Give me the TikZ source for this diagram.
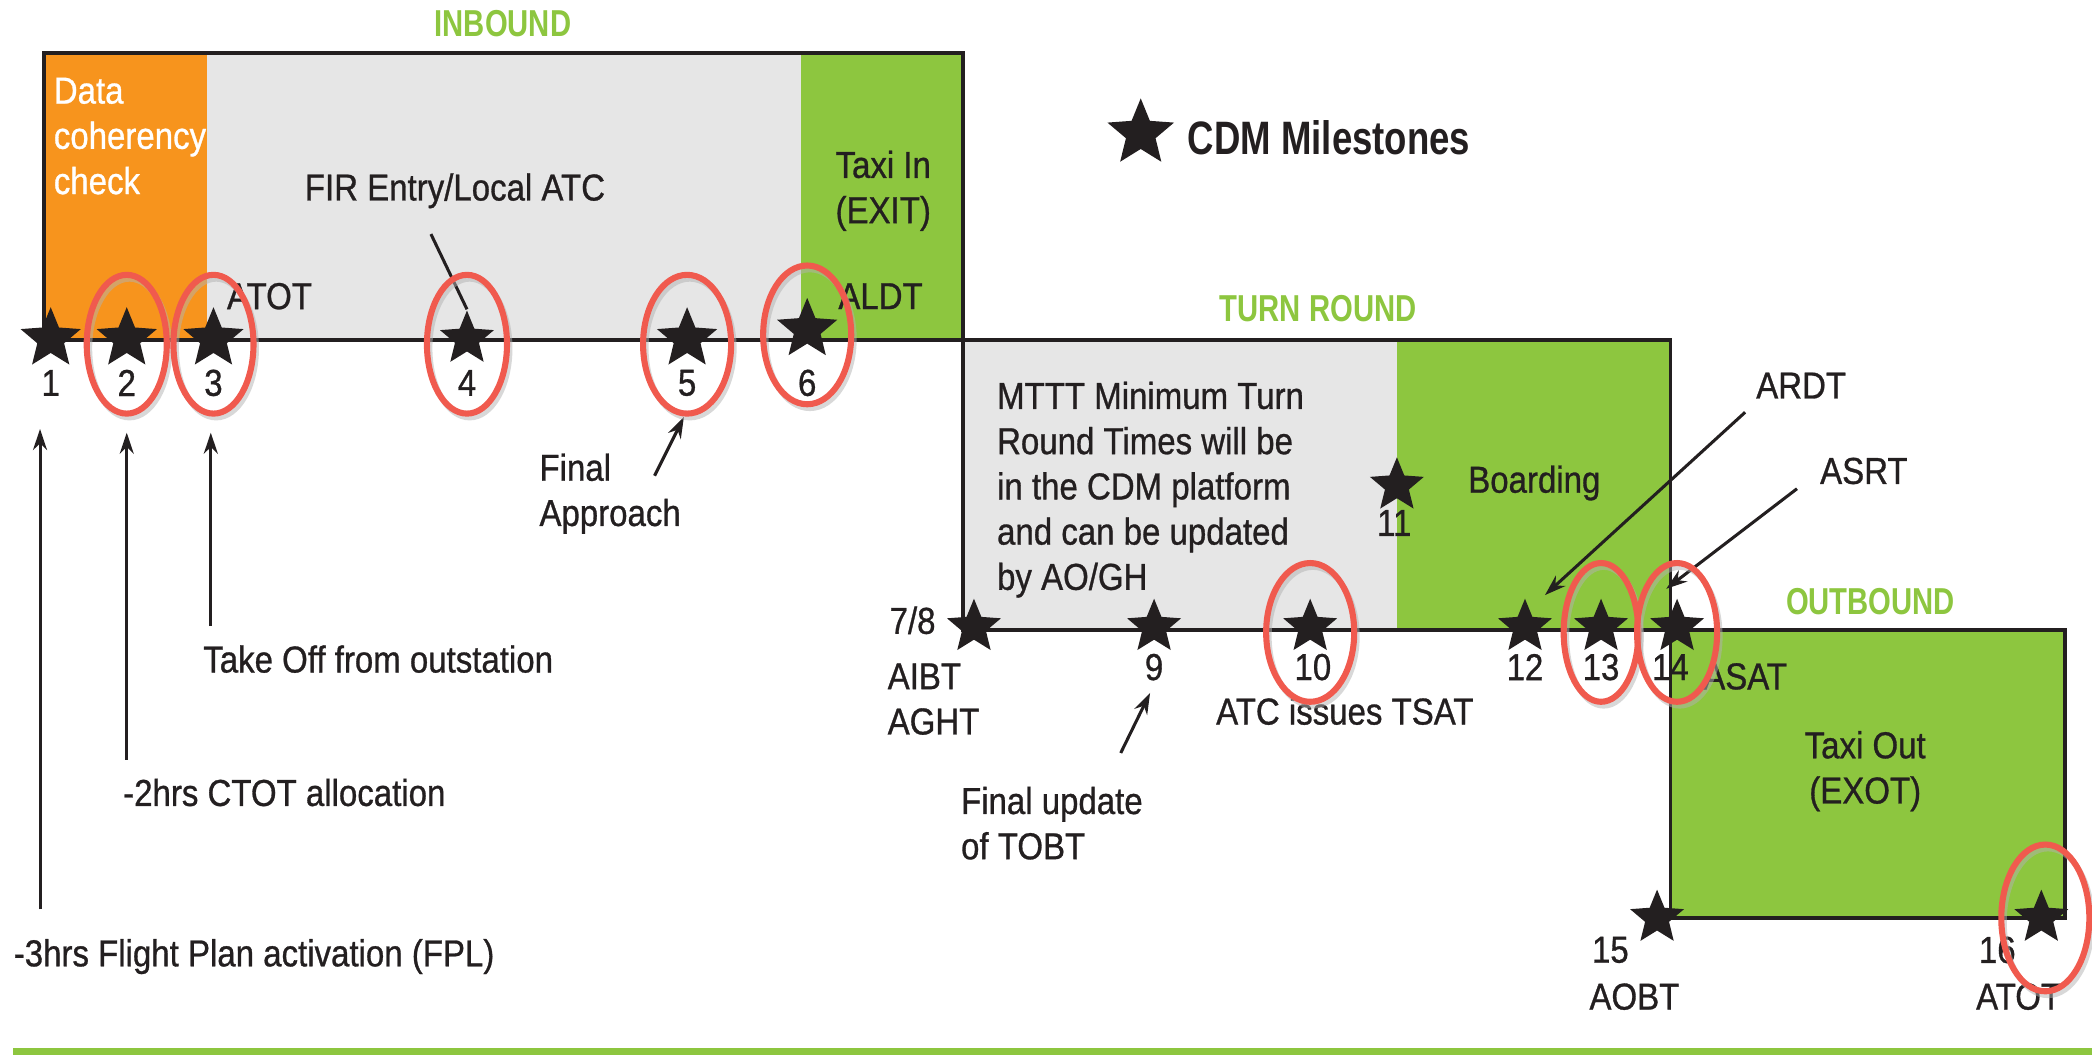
\documentclass[tikz,border=0pt]{standalone}
\usepackage{fontspec}
\setmainfont[FakeStretch=0.88, FakeBold=0.8]{Liberation Sans}
\newfontfamily\headfont[FakeStretch=0.78]{Liberation Sans}
\usetikzlibrary{arrows.meta, calc}
\usetikzlibrary{shapes.geometric}
\definecolor{myorange}{RGB}{247,148,29}
\definecolor{mygreen}{RGB}{141,198,63}
\definecolor{mygrey}{RGB}{230,230,230}
\definecolor{myred}{RGB}{240,90,78}
\definecolor{myblack}{RGB}{35,31,32}
\tikzstyle{frame} = [draw=myblack, line width=1.6pt]
\tikzstyle{head} = [text=mygreen, inner sep=0,
    font=\headfont\bfseries\fontsize{16}{18}\selectfont]
\tikzstyle{txt} = [inner sep=0, align=left, text=myblack,
    font=\fontsize{16}{19.3}\selectfont]
\tikzstyle{num} = [inner sep=0, text=myblack, font=\fontsize{16}{18}\selectfont]
\tikzstyle{mstar} = [star, star points=5, star point ratio=2.25, fill=myblack,
    inner sep=0, minimum size=0.85cm]
\tikzstyle{ring} = [draw=myred, line width=2.6pt]
\tikzstyle{ringshadow} = [draw=black!30, line width=2.4pt, opacity=0.5]
\tikzstyle{arr} = [-{Stealth[length=9pt, width=6pt]}, line width=1.3pt, draw=myblack]

\begin{document}
\begin{tikzpicture}[x=0.02cm, y=-0.02cm]
\useasboundingbox (0,0) rectangle (1568,791);

% 1. Phase boxes
\fill[myorange] (33,40) rectangle (155,255);
\fill[mygrey] (155,40) rectangle (600,255);
\fill[mygreen] (600,40) rectangle (722,255);
\draw[frame] (33,40) rectangle (722,255);
\fill[mygrey] (722,255) rectangle (1047,472);
\fill[mygreen] (1047,255) rectangle (1252,472);
\draw[frame] (722,255) rectangle (1252,472);
\fill[mygreen] (1252,472) rectangle (1548,688);
\draw[frame] (1252,472) rectangle (1548,688);
\draw[mygreen, line width=3pt] (10,788) -- (1568,788);

% 2. Titles and legend
\node[head] (inb) at (377,18) {INBOUND};
\node[head] (turn) at (988,231) {TURN ROUND};
\node[head] (outb) at (1402,451) {OUTBOUND};
\node[mstar, minimum size=1.05cm] (leg) at (855,100) {};
\node[anchor=west, inner sep=0, text=myblack,
    font=\headfont\bfseries\fontsize{20}{24}\selectfont] (legtxt) at (890,103) {CDM Milestones};

% 3. Texts in the boxes
\node[txt, text=white, anchor=west] (dcc) at (40,102) {Data\\coherency\\check};
\node[txt] (fir) at (341,143) {FIR Entry/Local ATC};
\node[txt, align=center] (taxiin) at (662,143) {Taxi In\\(EXIT)};
\node[txt] (atot1) at (202,222) {ATOT};
\node[txt] (aldt) at (660,222) {ALDT};
\node[txt, anchor=west] (mttt) at (747,367) {MTTT Minimum Turn\\Round Times will be\\in the CDM platform\\and can be updated\\by AO/GH};
\node[txt] (board) at (1150,362) {Boarding};
\node[txt, align=center] (taxiout) at (1398,578) {Taxi Out\\(EXOT)};

% 4. Texts round the boxes
\node[txt] (ardt) at (1350,289) {ARDT};
\node[txt] (asrt) at (1397,353) {ASRT};
\node[txt] (n78) at (684,465) {7/8};
\node[txt, anchor=west] (aibt) at (665,524) {AIBT\\AGHT};
\node[txt] (tsat) at (1008,533) {ATC issues TSAT};
\node[txt] (asat) at (1308,507) {ASAT};
\node[txt, anchor=west] (tkoff) at (152,494) {Take Off from outstation};
\node[txt, anchor=west] (ctot) at (92,594) {-2hrs CTOT allocation};
\node[txt, anchor=west] (fpl) at (10,717) {-3hrs Flight Plan activation (FPL)};
\node[txt, anchor=west] (fapp) at (404,370) {Final\\Approach};
\node[txt, anchor=west] (ftobt) at (720,617) {Final update\\of TOBT};
\node[txt] (aobt) at (1225,747) {AOBT};
\node[txt] (atot2) at (1513,747) {ATOT};

% 5. Milestones
\foreach \i/\x/\y/\s in {1/38/254/0.95, 2/95/254/0.95, 3/160/254/0.95, 4/350/254/0.85,
    5/515/254/0.95, 6/605/247/0.95, 7/730/470/0.85, 9/865/470/0.85, 10/982/470/0.85,
    11/1047/364/0.85, 12/1143/470/0.85, 13/1200/470/0.85, 14/1257/470/0.85,
    15/1242/688/0.85, 16/1530/688/0.85}
    \node[mstar, minimum size=\s cm] (m\i) at (\x,\y) {};
\foreach \i/\x/\y in {1/38/287, 2/95/287, 3/160/287, 4/350/287, 5/515/287, 6/605/287,
    9/865/500, 10/984/500, 11/1045/392, 12/1143/500, 13/1200/500, 14/1252/500,
    15/1207/712, 16/1497/712}
    \node[num] (n\i) at (\x,\y) {\i};

% 6. Pointers
\draw[arr] ($(fpl.north west)+(20,-22)$) -- ++(0,-360);
\draw[arr] ($(ctot.north west)+(3,-14)$) -- ++(0,-245);
\draw[arr] ($(tkoff.north west)+(6,-14)$) -- ++(0,-145);
\draw[line width=1.3pt, myblack] ($(fir.south)+(-18,19)$) -- (m4.north);
\draw[arr] ($(fapp.north east)+(-20,17)$) -- ++(22,-44);
\draw[arr] ($(ftobt.north west)+(120,-25)$) -- ++(22,-45);
\draw[arr] ($(ardt.south west)+(-8,10)$) -- ++(-150,137);
\draw[arr] ($(asrt.south west)+(-17,3)$) -- ++(-98,75);

% 7. Highlighted milestones
\foreach \i/\rx in {2/30, 3/30, 4/30, 5/33, 6/33, 10/33, 13/28, 14/30}{
    \draw[ringshadow] ($(m\i)+(2,7)$) ellipse [x radius=\rx, y radius=52];
    \draw[ring] ($(m\i)+(0,4)$) ellipse [x radius=\rx, y radius=52];
}
\draw[ringshadow] ($(m16)+(5,3)$) ellipse [x radius=33, y radius=55];
\draw[ring] ($(m16)+(3,0)$) ellipse [x radius=33, y radius=55];

\end{tikzpicture}
\end{document}
